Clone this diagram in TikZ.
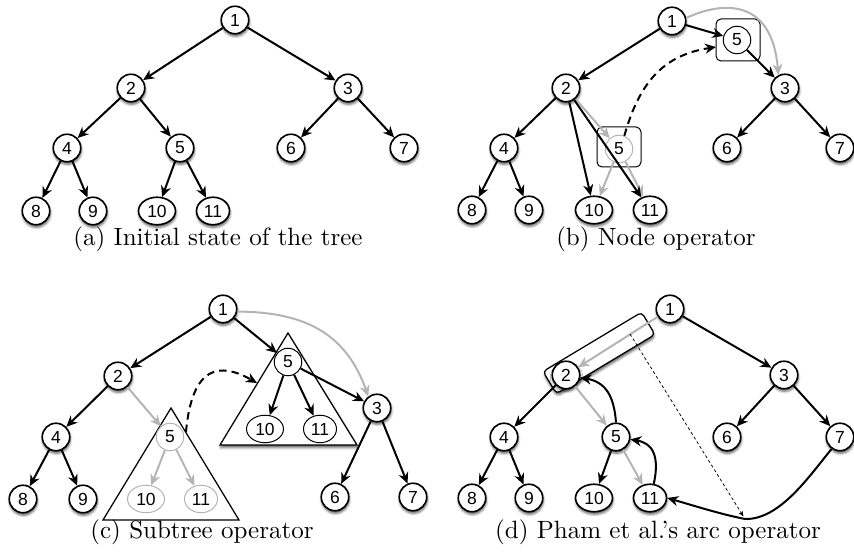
\documentclass[tikz,border=0pt]{standalone}
\usepackage{fontspec}
\newfontfamily\treefont{Liberation Sans}
\usepackage{xcolor}
\definecolor{trgray}{HTML}{B4B4B4}
\usetikzlibrary{arrows.meta,shapes.geometric,shadows.blur}
\tikzset{
  trshadow/.style={blur shadow={shadow xshift=0.2pt,shadow yshift=-1pt,shadow blur radius=1pt,shadow opacity=65}},
  trnode/.style={circle,draw,line width=0.65pt,fill=white,minimum size=11pt,inner sep=0pt,font=\treefont\fontsize{7}{8}\selectfont,trshadow},
  trthin/.style={circle,draw,line width=0.4pt,fill=white,minimum size=11pt,inner sep=0pt,font=\treefont\fontsize{7}{8}\selectfont},
  trghost/.style={trthin,draw=trgray},
  trwide/.style={ellipse,minimum width=14.8pt},
  trnarrow/.style={ellipse,minimum width=13.2pt},
  trframe/.style={draw,rounded corners=2pt,line width=0.4pt,inner sep=0pt},
  trbar/.style={draw,rounded corners=1.6pt,line width=0.5pt,fill=white,inner sep=0pt,trshadow},
  trtri/.style={draw,line width=0.5pt},
  trflow/.style={-{Stealth[length=4.4pt,width=4pt]},line width=0.8pt},
  trback/.style={trflow,trgray},
  trmove/.style={trflow,dash pattern=on 3pt off 2pt},
  trhint/.style={-{Stealth[length=2.2pt,width=1.8pt]},line width=0.3pt,dash pattern=on 1.2pt off 1pt},
  trcaption/.style={font=\fontsize{10}{12}\selectfont,inner sep=0pt},
}

\begin{document}
\begin{tikzpicture}[x=0.4pt,y=-0.4pt]
\useasboundingbox (0,0) rectangle (854,552);

% (a) initial tree
\node[trnode] (a1) at (235,20) {1};
\node[trnode] (a2) at (131,88) {2};
\node[trnode] (a3) at (348,88) {3};
\node[trnode] (a4) at (67,148) {4};
\node[trnode] (a5) at (180,148) {5};
\node[trnode] (a6) at (291,148) {6};
\node[trnode] (a7) at (404,148) {7};
\node[trnode] (a8) at (36,211) {8};
\node[trnode] (a9) at (93,211) {9};
\node[trnode,trwide] (a10) at (157,211) {10};
\node[trnode,trnarrow] (a11) at (213,211) {11};
\draw[trflow] (a1) -- (a2);
\draw[trflow] (a1) -- (a3);
\draw[trflow] (a2) -- (a4);
\draw[trflow] (a2) -- (a5);
\draw[trflow] (a3) -- (a6);
\draw[trflow] (a3) -- (a7);
\draw[trflow] (a4) -- (a8);
\draw[trflow] (a4) -- (a9);
\draw[trflow] (a5) -- (a10);
\draw[trflow] (a5) -- (a11);
\node[trcaption] (capa) at (218,239) {(a) Initial state of the tree};

% (b) node 5 moved between 1 and 3
\node[trframe,minimum width=17.6pt,minimum height=16.8pt] (b5box) at (738,40) {};
\node[trframe,minimum width=17.6pt,minimum height=16pt] (g5box) at (619,147) {};
\node[trnode] (b1) at (672,21) {1};
\node[trthin] (b5) at (737,40) {5};
\node[trnode] (b2) at (566,88) {2};
\node[trnode] (b3) at (785,88) {3};
\node[trnode] (b4) at (504,148) {4};
\node[trghost] (g5) at (619,149) {5};
\node[trnode] (b6) at (727,148) {6};
\node[trnode] (b7) at (840,148) {7};
\node[trnode] (b8) at (472,210) {8};
\node[trnode] (b9) at (529,210) {9};
\node[trnode,trwide] (b10) at (594,210) {10};
\node[trnode,trnarrow] (b11) at (650,210) {11};
\coordinate (b5tip) at (716,47);
\draw[trback] (b1.12) .. controls (725,0) and (772,0) .. (b3.117);
\draw[trback] (b2) -- (g5);
\draw[trback] (g5) -- (b10);
\draw[trback] (g5) -- (b11);
\draw[trflow] (b1) -- (b2);
\draw[trflow] (b1) -- (b5);
\draw[trflow] (b5) -- (b3);
\draw[trflow] (b2) -- (b4);
\draw[trflow] (b2) -- (b10);
\draw[trflow] (b2) -- (b11);
\draw[trflow] (b3) -- (b6);
\draw[trflow] (b3) -- (b7);
\draw[trflow] (b4) -- (b8);
\draw[trflow] (b4) -- (b9);
\draw[trmove] (g5.68) .. controls (640,80) and (665,55) .. (b5tip);
\node[trcaption] (capb) at (656,239) {(b) Node operator};

% (c) subtree rooted at 5 moved
\draw[trtri,fill=white,trshadow] (288,333) -- (357,445) -- (220,445) -- cycle;
\draw[trtri] (171,408) -- (239,520) -- (103,520) -- cycle;
\node[trnode] (c1) at (223,309) {1};
\node[trnode] (c2) at (118,376) {2};
\node[trnode] (c3) at (377,408) {3};
\node[trnode] (c4) at (56,437) {4};
\node[trnode] (c6) at (335,497) {6};
\node[trnode] (c7) at (413,497) {7};
\node[trnode] (c8) at (23,499) {8};
\node[trnode] (c9) at (83,499) {9};
\node[trthin] (c5) at (288,362) {5};
\node[trthin,trwide] (c10) at (265,429) {10};
\node[trthin,trnarrow] (c11) at (320,429) {11};
\node[trghost] (h5) at (170,437) {5};
\node[trghost,trwide] (h10) at (146,499) {10};
\node[trghost,trnarrow] (h11) at (201,499) {11};
\coordinate (hstart) at (186,432);
\coordinate (ctip) at (257,383);
\draw[trback] (c1.-10) .. controls (300,312) and (345,330) .. (c3.127);
\draw[trback] (c2) -- (h5);
\draw[trback] (h5) -- (h10);
\draw[trback] (h5) -- (h11);
\draw[trflow] (c1) -- (c2);
\draw[trflow] (c1) -- (c5);
\draw[trflow] (c5) -- (c3);
\draw[trflow] (c5) -- (c10);
\draw[trflow] (c5) -- (c11);
\draw[trflow] (c2) -- (c4);
\draw[trflow] (c3) -- (c6);
\draw[trflow] (c3) -- (c7);
\draw[trflow] (c4) -- (c8);
\draw[trflow] (c4) -- (c9);
\draw[trmove] (hstart) .. controls (192,365) and (220,362) .. (ctip);
\node[trcaption] (capc) at (202,532) {(c) Subtree operator};

% (d) arc operator
\node[trbar,rotate=31,minimum width=46pt,minimum height=10.4pt] (dbar) at (599,353) {};
\node[trnode] (d1) at (670,309) {1};
\node[trnode] (d2) at (566,375) {2};
\node[trnode] (d3) at (784,375) {3};
\node[trnode] (d4) at (504,437) {4};
\node[trnode] (d5) at (616,437) {5};
\node[trnode] (d6) at (727,437) {6};
\node[trnode] (d7) at (840,437) {7};
\node[trnode] (d8) at (472,498) {8};
\node[trnode] (d9) at (529,498) {9};
\node[trnode,trwide] (d10) at (594,498) {10};
\node[trnode,trnarrow] (d11) at (650,498) {11};
\coordinate (dpick) at (630,334);
\coordinate (dlow) at (745,519);
\draw[trback] (d1) -- (d2);
\draw[trback] (d2) -- (d5);
\draw[trback] (d5) -- (d11);
\draw[trflow] (d1) -- (d3);
\draw[trflow] (d2) -- (d4);
\draw[trflow] (d5) -- (d10);
\draw[trflow] (d3) -- (d6);
\draw[trflow] (d3) -- (d7);
\draw[trflow] (d4) -- (d8);
\draw[trflow] (d4) -- (d9);
\draw[trflow] (d5.north) .. controls (614,395) and (605,382) .. (d2);
\draw[trflow] (d11.75) .. controls (660,455) and (652,443) .. (d5);
\draw[trflow] (d7.235) .. controls (810,475) and (780,520) .. (dlow)
  .. controls (720,514) and (695,506) .. (d11.east);
\draw[trhint,shorten >=1.2pt] (dpick) -- (dlow);
\node[trcaption] (capd) at (658,532) {(d) Pham et al.'s arc operator};
\end{tikzpicture}
\end{document}
